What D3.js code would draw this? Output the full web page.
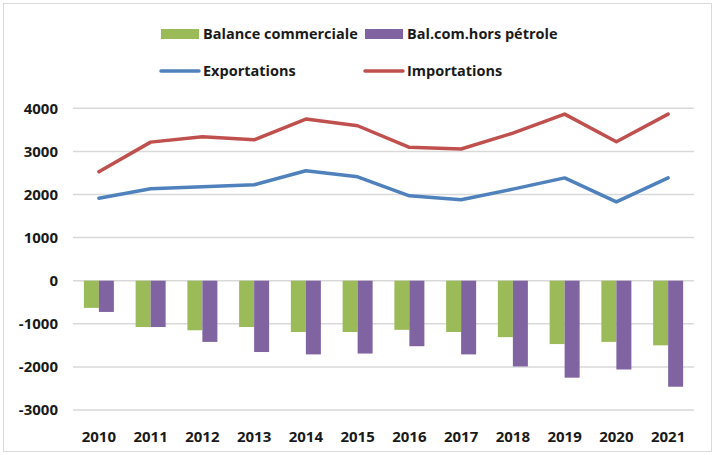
<!DOCTYPE html>
<html lang="fr">
<head>
  <meta charset="UTF-8" />
  <title>Balance commerciale</title>
  <style>
    body {
      margin: 0;
      background: white;
      font-family: 'Open Sans', 'Liberation Sans', sans-serif;
    }
    svg text { font-weight: 700; fill: #1a1a1a; }
  </style>
</head>
<body>
  <svg width="715" height="455"></svg>

  <script src="https://d3js.org/d3.v7.min.js"></script>
  <script>
    const years = ["2010", "2011", "2012", "2013", "2014", "2015", "2016", "2017", "2018", "2019", "2020", "2021"];
    const balance = [-630, -1075, -1150, -1075, -1190, -1190, -1140, -1190, -1310, -1470, -1420, -1500];
    const balHorsPetrole = [-725, -1075, -1420, -1655, -1710, -1690, -1520, -1710, -1990, -2250, -2060, -2460];
    const exportations = [1915, 2135, 2180, 2225, 2550, 2410, 1970, 1880, 2125, 2385, 1830, 2385];
    const importations = [2530, 3215, 3340, 3270, 3750, 3595, 3095, 3055, 3425, 3865, 3225, 3865];
    const yTicks = [-3000, -2000, -1000, 0, 1000, 2000, 3000, 4000];

    const colors = {
      balance: "#9BBB59",
      hors: "#8064A2",
      exp: "#4F81BD",
      imp: "#C0504D"
    };

    const svg = d3.select("svg");
    const left = 73, right = 694;

    // outer frame
    svg.append("rect")
      .attr("x", 3.5).attr("y", 3.5)
      .attr("width", 708).attr("height", 448)
      .attr("fill", "white")
      .attr("stroke", "#d9d9d9");

    const x = d3.scaleBand().domain(years).range([left, right]);
    const y = d3.scaleLinear().domain([-3000, 4000]).range([410, 108.3]);

    // grid
    svg.append("g")
      .selectAll("line")
      .data(yTicks)
      .join("line")
        .attr("x1", left).attr("x2", right)
        .attr("y1", d => y(d)).attr("y2", d => y(d))
        .attr("stroke", "#d9d9d9")
        .attr("stroke-width", 1.5);

    // y axis labels
    svg.append("g")
      .selectAll("text")
      .data(yTicks)
      .join("text")
        .attr("x", 58)
        .attr("y", d => y(d))
        .attr("dy", "0.35em")
        .attr("text-anchor", "end")
        .style("font-size", "15px")
        .text(d => d);

    // x labels
    svg.append("g")
      .selectAll("text")
      .data(years)
      .join("text")
        .attr("x", d => x(d) + x.bandwidth() / 2)
        .attr("y", 437)
        .attr("dy", "0.35em")
        .attr("text-anchor", "middle")
        .style("font-size", "15px")
        .text(d => d);

    // bars
    const sub = d3.scaleBand().domain(["balance", "hors"]).range([0, 30]);
    const barSeries = [
      { key: "balance", values: balance },
      { key: "hors", values: balHorsPetrole }
    ];
    barSeries.forEach(s => {
      svg.append("g")
        .selectAll("rect")
        .data(s.values)
        .join("rect")
          .attr("x", (d, i) => x(years[i]) + x.bandwidth() / 2 - 15 + sub(s.key))
          .attr("y", d => y(Math.max(0, d)))
          .attr("width", sub.bandwidth())
          .attr("height", d => Math.abs(y(d) - y(0)))
          .attr("fill", colors[s.key]);
    });

    // lines
    const line = d3.line()
      .x((d, i) => x(years[i]) + x.bandwidth() / 2)
      .y(d => y(d));
    [[exportations, colors.exp], [importations, colors.imp]].forEach(([vals, c]) => {
      svg.append("path")
        .datum(vals)
        .attr("d", line)
        .attr("fill", "none")
        .attr("stroke", c)
        .attr("stroke-width", 3.5)
        .attr("stroke-linejoin", "round")
        .attr("stroke-linecap", "round");
    });

    // legend
    const legend = svg.append("g").style("font-size", "14.5px");
    const legItems = [
      { label: "Balance commerciale", type: "rect", c: colors.balance, x: 161, y: 34 },
      { label: "Bal.com.hors pétrole", type: "rect", c: colors.hors, x: 365, y: 34 },
      { label: "Exportations", type: "line", c: colors.exp, x: 161, y: 71 },
      { label: "Importations", type: "line", c: colors.imp, x: 365, y: 71 }
    ];
    legItems.forEach(it => {
      if (it.type === "rect") {
        legend.append("rect")
          .attr("x", it.x).attr("y", it.y - 5)
          .attr("width", 38).attr("height", 10)
          .attr("fill", it.c);
      } else {
        legend.append("line")
          .attr("x1", it.x).attr("x2", it.x + 38)
          .attr("y1", it.y).attr("y2", it.y)
          .attr("stroke", it.c)
          .attr("stroke-width", 3.5)
          .attr("stroke-linecap", "round");
      }
      legend.append("text")
        .attr("x", it.x + 42)
        .attr("y", it.y)
        .attr("dy", "0.35em")
        .text(it.label);
    });
  </script>
</body>
</html>
